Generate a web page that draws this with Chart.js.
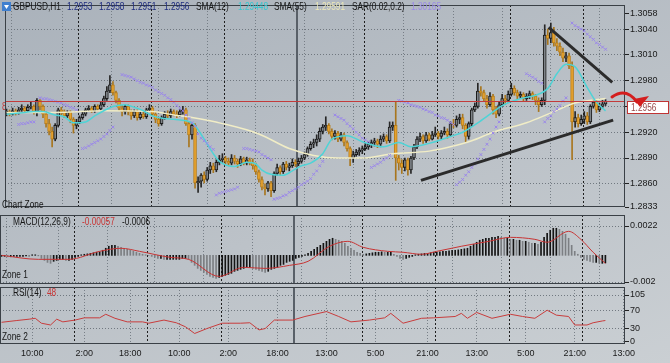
<!DOCTYPE html>
<html><head><meta charset="utf-8">
<script src="https://cdn.jsdelivr.net/npm/chart.js@4.4.1/dist/chart.umd.min.js"></script>
<style>
html,body{margin:0;padding:0;}
body{width:670px;height:363px;overflow:hidden;position:relative;background:linear-gradient(160deg,#aab2bb 0%,#bcc2c8 55%,#cacfd3 100%);}
canvas{position:absolute;left:0;}
#c1{top:0;} #c2{top:215px;} #c3{top:287px;}
</style></head><body>
<canvas id="c1" width="670" height="212"></canvas>
<canvas id="c2" width="670" height="69"></canvas>
<canvas id="c3" width="670" height="76"></canvas>
<script>
const FONT = "'Liberation Sans',Arial,sans-serif";
const symbolName = 'GBPUSD,H1';

const opens = [1.2943,1.2944,1.2941,1.2945,1.2943,1.2946,1.2948,1.2945,1.2949,1.2950,
1.2944,1.2957,1.2950,1.2941,1.2930,1.2921,1.2912,1.2928,1.2946,1.2944,
1.2939,1.2943,1.2935,1.2928,1.2932,1.2937,1.2941,1.2946,1.2948,1.2945,
1.2950,1.2947,1.2952,1.2959,1.2968,1.2975,1.2966,1.2957,1.2948,1.2944,
1.2950,1.2944,1.2939,1.2944,1.2937,1.2941,1.2938,1.2946,1.2948,1.2941,
1.2935,1.2930,1.2937,1.2941,1.2939,1.2944,1.2941,1.2940,1.2944,1.2946,
1.2930,1.2917,1.2928,1.2861,1.2863,1.2870,1.2865,1.2876,1.2881,1.2876,
1.2885,1.2888,1.2890,1.2886,1.2884,1.2890,1.2886,1.2883,1.2889,1.2884,
1.2888,1.2885,1.2881,1.2874,1.2865,1.2856,1.2854,1.2861,1.2852,1.2872,
1.2879,1.2874,1.2883,1.2879,1.2881,1.2885,1.2883,1.2886,1.2890,1.2894,
1.2901,1.2906,1.2908,1.2912,1.2921,1.2926,1.2928,1.2921,1.2915,1.2919,
1.2912,1.2917,1.2908,1.2901,1.2890,1.2894,1.2897,1.2899,1.2901,1.2903,
1.2906,1.2908,1.2910,1.2906,1.2912,1.2915,1.2910,1.2926,1.2928,1.2890,
1.2884,1.2879,1.2888,1.2876,1.2890,1.2903,1.2912,1.2915,1.2910,1.2917,
1.2912,1.2917,1.2919,1.2915,1.2919,1.2921,1.2917,1.2930,1.2928,1.2935,
1.2937,1.2928,1.2915,1.2930,1.2946,1.2950,1.2968,1.2966,1.2959,1.2952,
1.2962,1.2946,1.2941,1.2952,1.2959,1.2957,1.2964,1.2971,1.2966,1.2962,
1.2964,1.2959,1.2962,1.2965,1.2962,1.2957,1.2952,1.2957,1.3033,1.3029,
1.3036,1.3024,1.3020,1.3013,1.3006,1.3009,1.2997,1.2932,1.2937,1.2930,
1.2935,1.2939,1.2932,1.2950,1.2955,1.2946,1.2950,1.2953];

const highs = [1.2947,1.2946,1.2948,1.2947,1.2949,1.2952,1.2950,1.2952,1.2955,1.2952,
1.2959,1.2958,1.2952,1.2944,1.2935,1.2926,1.2930,1.2948,1.2949,1.2946,
1.2945,1.2945,1.2937,1.2935,1.2939,1.2944,1.2948,1.2951,1.2950,1.2952,
1.2952,1.2955,1.2962,1.2973,1.2986,1.2979,1.2968,1.2959,1.2951,1.2952,
1.2952,1.2946,1.2946,1.2946,1.2944,1.2944,1.2948,1.2952,1.2950,1.2944,
1.2937,1.2939,1.2944,1.2945,1.2947,1.2946,1.2945,1.2946,1.2950,1.2948,
1.2932,1.2930,1.2930,1.2868,1.2872,1.2874,1.2879,1.2885,1.2884,1.2888,
1.2893,1.2895,1.2892,1.2890,1.2894,1.2893,1.2889,1.2892,1.2891,1.2891,
1.2890,1.2889,1.2884,1.2876,1.2868,1.2860,1.2863,1.2863,1.2874,1.2883,
1.2881,1.2885,1.2886,1.2884,1.2889,1.2888,1.2890,1.2893,1.2897,1.2903,
1.2909,1.2912,1.2917,1.2925,1.2929,1.2938,1.2930,1.2924,1.2922,1.2921,
1.2920,1.2919,1.2910,1.2903,1.2898,1.2900,1.2902,1.2904,1.2907,1.2909,
1.2911,1.2913,1.2912,1.2916,1.2918,1.2917,1.2932,1.2932,1.2955,1.2893,
1.2888,1.2890,1.2890,1.2892,1.2906,1.2915,1.2919,1.2917,1.2920,1.2919,
1.2921,1.2926,1.2921,1.2922,1.2926,1.2924,1.2932,1.2935,1.2939,1.2941,
1.2941,1.2930,1.2932,1.2948,1.2954,1.2977,1.2973,1.2969,1.2963,1.2966,
1.2964,1.2950,1.2956,1.2964,1.2963,1.2968,1.2977,1.2974,1.2969,1.2967,
1.2966,1.2965,1.2968,1.2967,1.2964,1.2960,1.2960,1.3045,1.3040,1.3047,
1.3042,1.3029,1.3024,1.3018,1.3013,1.3012,1.3002,1.2944,1.2941,1.2940,
1.2944,1.2943,1.2952,1.2958,1.2957,1.2954,1.2957,1.2958];

const lows = [1.2939,1.2939,1.2940,1.2940,1.2941,1.2944,1.2943,1.2944,1.2947,1.2941,
1.2939,1.2946,1.2937,1.2926,1.2917,1.2903,1.2910,1.2926,1.2940,1.2937,
1.2937,1.2931,1.2919,1.2924,1.2930,1.2935,1.2939,1.2944,1.2943,1.2943,
1.2945,1.2945,1.2950,1.2957,1.2966,1.2963,1.2954,1.2945,1.2939,1.2941,
1.2940,1.2935,1.2937,1.2934,1.2935,1.2936,1.2936,1.2944,1.2939,1.2931,
1.2927,1.2928,1.2935,1.2936,1.2937,1.2939,1.2937,1.2938,1.2941,1.2928,
1.2903,1.2912,1.2855,1.2850,1.2856,1.2861,1.2863,1.2872,1.2873,1.2874,
1.2882,1.2885,1.2883,1.2881,1.2882,1.2883,1.2879,1.2881,1.2882,1.2882,
1.2882,1.2877,1.2871,1.2862,1.2853,1.2847,1.2851,1.2845,1.2850,1.2870,
1.2870,1.2872,1.2876,1.2875,1.2879,1.2880,1.2881,1.2884,1.2888,1.2892,
1.2899,1.2902,1.2904,1.2909,1.2918,1.2922,1.2918,1.2911,1.2912,1.2909,
1.2910,1.2904,1.2898,1.2881,1.2885,1.2892,1.2893,1.2895,1.2899,1.2900,
1.2902,1.2904,1.2902,1.2903,1.2909,1.2907,1.2908,1.2922,1.2864,1.2876,
1.2872,1.2875,1.2870,1.2872,1.2888,1.2901,1.2909,1.2907,1.2908,1.2910,
1.2911,1.2915,1.2912,1.2912,1.2917,1.2913,1.2915,1.2925,1.2926,1.2930,
1.2924,1.2909,1.2912,1.2927,1.2944,1.2948,1.2962,1.2956,1.2948,1.2950,
1.2941,1.2937,1.2939,1.2950,1.2952,1.2955,1.2962,1.2963,1.2958,1.2959,
1.2956,1.2957,1.2959,1.2958,1.2952,1.2944,1.2950,1.2952,1.3022,1.3024,
1.3020,1.3015,1.3009,1.3002,1.3002,1.2994,1.2888,1.2926,1.2926,1.2928,
1.2930,1.2929,1.2930,1.2948,1.2943,1.2944,1.2948,1.2951];

const closes = [1.2944,1.2941,1.2945,1.2943,1.2946,1.2948,1.2945,1.2949,1.2950,1.2944,
1.2957,1.2950,1.2941,1.2930,1.2921,1.2912,1.2928,1.2946,1.2944,1.2939,
1.2943,1.2935,1.2928,1.2932,1.2937,1.2941,1.2946,1.2948,1.2945,1.2950,
1.2947,1.2952,1.2959,1.2968,1.2975,1.2966,1.2957,1.2948,1.2944,1.2950,
1.2944,1.2939,1.2944,1.2937,1.2941,1.2938,1.2946,1.2948,1.2941,1.2935,
1.2930,1.2937,1.2941,1.2939,1.2944,1.2941,1.2940,1.2944,1.2946,1.2930,
1.2917,1.2928,1.2861,1.2863,1.2870,1.2865,1.2876,1.2881,1.2876,1.2885,
1.2888,1.2890,1.2886,1.2884,1.2890,1.2886,1.2883,1.2889,1.2884,1.2888,
1.2885,1.2881,1.2874,1.2865,1.2856,1.2854,1.2861,1.2852,1.2872,1.2879,
1.2874,1.2883,1.2879,1.2881,1.2885,1.2883,1.2886,1.2890,1.2894,1.2901,
1.2906,1.2908,1.2912,1.2921,1.2926,1.2928,1.2921,1.2915,1.2919,1.2912,
1.2917,1.2908,1.2901,1.2890,1.2894,1.2897,1.2899,1.2901,1.2903,1.2906,
1.2908,1.2910,1.2906,1.2912,1.2915,1.2910,1.2926,1.2928,1.2890,1.2884,
1.2879,1.2888,1.2876,1.2890,1.2903,1.2912,1.2915,1.2910,1.2917,1.2912,
1.2917,1.2919,1.2915,1.2919,1.2921,1.2917,1.2930,1.2928,1.2935,1.2937,
1.2928,1.2915,1.2930,1.2946,1.2950,1.2968,1.2966,1.2959,1.2952,1.2962,
1.2946,1.2941,1.2952,1.2959,1.2957,1.2964,1.2971,1.2966,1.2962,1.2964,
1.2959,1.2962,1.2965,1.2962,1.2957,1.2952,1.2957,1.3033,1.3029,1.3036,
1.3024,1.3020,1.3013,1.3006,1.3009,1.2997,1.2932,1.2937,1.2930,1.2935,
1.2939,1.2932,1.2950,1.2955,1.2946,1.2950,1.2953,1.2956];

const sma12Bars = [0,6,9,12,16,19,22,26,29,32,35,39,42,45,48,52,55,61,65,68,70,75,79,82,84,87,91,94,97,100,104,107,112,117,124,129,133,139,146,150,155,159,163,169,174,178,181,184,187,191,194,197];
const sma12Vals = [1.2941,1.2943,1.2944,1.2944,1.2940,1.2938,1.2931,1.2932,1.2939,1.2945,1.2950,1.2952,1.2949,1.2945,1.2939,1.2936,1.2935,1.2931,1.2912,1.2895,1.2886,1.2880,1.2885,1.2883,1.2876,1.2871,1.2870,1.2875,1.2881,1.2884,1.2895,1.2912,1.2916,1.2909,1.2903,1.2908,1.2903,1.2907,1.2915,1.2920,1.2931,1.2941,1.2951,1.2959,1.2963,1.2971,1.2988,1.2999,1.2996,1.2972,1.2955,1.29448];

const sma55Bars = [0,16,32,48,55,61,71,83,93,101,109,117,127,139,146,153,160,171,180,187,197];
const sma55Vals = [1.2943,1.2943,1.2945,1.2944,1.2940,1.2937,1.2930,1.2918,1.2901,1.2893,1.2890,1.2890,1.2895,1.2898,1.2903,1.2910,1.2920,1.2931,1.2944,1.2954,1.29591];

const sar = [null,null,null,null,1.2929,1.2930,1.2930,1.2931,1.2932,1.2932,
null,1.2960,1.2959,1.2959,1.2958,1.2957,1.2956,1.2955,1.2954,1.2952,
1.2951,1.2949,1.2948,1.2946,null,1.2901,1.2902,1.2904,1.2906,1.2908,
1.2910,1.2912,1.2915,1.2918,1.2922,1.2926,null,null,1.2987,1.2986,
1.2985,1.2984,1.2982,1.2980,1.2978,1.2977,1.2975,1.2974,1.2972,1.2969,
1.2967,1.2965,1.2963,1.2960,1.2958,1.2955,1.2951,1.2948,1.2945,1.2940,
1.2936,1.2931,1.2927,1.2918,1.2913,1.2910,1.2907,1.2903,1.2900,1.2847,
1.2849,1.2850,1.2851,1.2852,1.2853,1.2854,1.2856,null,1.2901,1.2901,
1.2900,1.2899,1.2898,1.2897,1.2894,1.2892,1.2890,1.2888,1.2842,1.2843,
1.2844,1.2846,1.2847,1.2850,1.2852,1.2854,1.2856,1.2859,1.2861,1.2863,
1.2866,1.2871,1.2875,1.2881,1.2886,null,null,null,1.2940,1.2938,
1.2936,1.2934,1.2930,1.2927,1.2924,1.2920,1.2917,1.2913,1.2911,1.2909,
1.2879,1.2881,1.2883,1.2885,1.2888,1.2890,1.2893,null,null,1.2957,
1.2956,1.2955,1.2954,1.2952,1.2951,1.2950,1.2949,1.2947,1.2946,1.2944,
1.2943,1.2940,1.2939,1.2937,1.2936,1.2934,1.2931,1.2929,1.2859,1.2862,
1.2865,1.2870,1.2874,1.2879,1.2883,1.2889,1.2894,1.2900,1.2906,1.2912,
1.2919,1.2926,1.2932,null,null,null,null,null,null,null,
null,1.2988,1.2986,1.2984,1.2982,1.2979,1.2977,1.2932,1.2936,1.2939,
1.2944,1.2947,1.2951,1.2956,1.2960,null,1.3047,1.3044,1.3042,1.3040,
1.3038,1.3034,1.3031,1.3028,1.3024,1.3022,1.3019,1.30165];

const macdHist = [-0.00008,-0.00008,-0.00011,-0.00011,-0.00008,-0.00008,-0.00008,-0.00008,-0.00004,-0.00008,0.00004,0.00004,-0.00004,
-0.00023,-0.00038,-0.00053,-0.00060,-0.00045,
-0.00038,-0.00030,-0.00030,-0.00038,-0.00038,-0.00030,
-0.00015,-0.00008,0.00004,0.00008,0.00011,0.00015,0.00019,0.00023,0.00026,
0.00038,0.00053,0.00068,0.00075,0.00075,0.00068,0.00060,0.00053,
0.00045,0.00038,0.00030,0.00023,0.00015,
0.00008,0.00004,0,-0.00008,-0.00015,
-0.00023,-0.00023,-0.00030,-0.00030,-0.00030,-0.00030,-0.00030,-0.00030,-0.00023,-0.00023,-0.00030,
-0.00053,-0.00075,-0.00098,-0.00113,-0.00128,-0.00143,-0.00158,-0.00165,-0.00173,-0.00165,
-0.00158,-0.00150,-0.00143,-0.00135,-0.00120,-0.00113,-0.00105,-0.00098,-0.00090,-0.00090,
-0.00098,-0.00105,-0.00113,-0.00120,-0.00128,-0.00120,
-0.00105,-0.00098,-0.00090,-0.00075,-0.00068,-0.00053,-0.00045,-0.00038,
-0.00023,-0.00015,-0.00008,0.00004,0.00015,
0.00030,0.00045,0.00060,0.00075,0.00090,0.00105,0.00120,0.00128,0.00120,0.00113,
0.00105,0.00090,0.00068,0.00053,0.00038,0.00023,0.00015,
0.00008,0.00011,0.00015,0.00019,0.00023,0.00023,0.00026,0.00023,0.00023,
0.00023,0.00008,-0.00008,-0.00023,-0.00030,
-0.00023,-0.00015,-0.00008,0.00004,0.00008,0.00011,0.00015,
0.00015,0.00019,0.00023,0.00023,0.00026,0.00030,0.00030,0.00034,0.00038,0.00038,0.00041,0.00045,0.00049,0.00053,
0.00068,0.00083,0.00098,0.00113,0.00120,0.00128,0.00128,0.00135,0.00135,0.00143,0.00135,0.00128,0.00128,
0.00120,0.00120,0.00113,0.00113,0.00105,0.00105,0.00098,0.00090,0.00090,0.00083,
0.00098,0.00135,0.00165,0.00188,0.00203,0.00203,0.00195,
0.00180,0.00158,0.00128,0.00075,
0.00030,0.00008,-0.00015,
-0.00030,-0.00038,-0.00045,-0.00053,-0.00053,-0.00060,-0.00060,-0.00057];

const macdSigBars = [0,12,22,32,39,45,55,61,71,79,86,94,100,107,113,118,126,131,137,142,150,159,166,174,178,185,189,193,197];
const macdSigVals = [0,-0.0003,-0.0003,0.0003,0.00053,0.0003,-0.00015,-0.0003,-0.00158,-0.0009,-0.00098,-0.00075,-0.00045,0.00068,0.00105,0.0006,0.0003,0.00023,0.00008,0.0003,0.00068,0.00105,0.00135,0.0012,0.00098,0.0018,0.0012,0.00023,-0.0006];

const rsiBars = [0,5,9,11,13,16,18,20,24,27,32,34,37,41,46,48,53,57,60,63,67,72,78,81,84,86,89,95,99,106,110,114,120,125,127,131,137,141,148,150,152,155,160,166,170,174,178,181,185,187,191,193,196,197];
const rsiVals = [44,48,51,53,42,38,51,45,49,54,54,62,53,45,45,42,49,43,34,19,30,42,42,43,27,30,49,49,57,68,57,45,49,54,64,42,53,54,57,64,53,66,53,62,57,53,71,60,57,38,38,43,47,48];

const priceTicks = [1.3058,1.3040,1.3010,1.2980,1.2950,1.2920,1.2890,1.2860,1.2833];
const macdTicks = [0.0022,-0.002];
const rsiTicks = [105,70,30,0];
const timeLabels = ['10:00','2:00','18:00','10:00','2:00','18:00','13:00','5:00','21:00','13:00','5:00','21:00','13:00'];
const timeLabelBars = [10,27,42,58,74,90,106,122,139,155,171,187,203];
const daySeparatorBars = [23.5,47.5,71.5,117.5,141.5,165.5,189.5];
const weekSeparatorBars = [95.5];
const trendUpperBars = [178.3,199.2], trendUpperVals = [1.3042,1.2978];
const trendLowerBars = [136.3,199.5], trendLowerVals = [1.2864,1.2934];

Chart.defaults.font.family = FONT;
const X_MIN = -0.5, X_MAX = 203.4, AXIS_W = 45, TXT_SX = 0.83;
const N = closes.length;
const pts = (bars, vals) => bars.map((b,k)=>({x:b, y:vals[k]}));

function xScale(show){
  return {
    type:'linear', min:X_MIN, max:X_MAX, offset:false,
    afterBuildTicks: s => { s.ticks = timeLabelBars.map(v=>({value:v})); },
    ticks:{display:show, autoSkip:false, maxRotation:0, padding:4, color:'#1a1a1a', font:{size:9}, callback:(v,i)=>timeLabels[i]},
    grid:{color:'rgba(112,120,128,0.9)', lineWidth:1, drawTicks:false},
    border:{display:false, dash:[1,2]},
    afterFit: s => { s.height = show ? 19 : 0; s.paddingLeft = 0; s.paddingRight = 0; }
  };
}
function yScale(min, max, ticks, fmt, edgeVals){
  return {
    position:'right', min, max,
    afterBuildTicks: s => { s.ticks = ticks.map(v=>({value:v})); },
    afterFit: s => { s.width = AXIS_W; s.paddingTop = 0; s.paddingBottom = 0; },
    ticks:{color:'#1a1a1a', font:{size:9}, padding:1, callback:fmt},
    grid:{color: c => (c.tick && edgeVals.includes(c.tick.value)) ? 'rgba(0,0,0,0)' : 'rgba(104,112,120,0.9)', lineWidth:1, drawTicks:true, tickLength:4, tickColor:'#222'},
    border:{display:false, dash:[1,2]}
  };
}
const panelPlugin = {
  id:'panel',
  beforeDatasetsDraw(chart){
    const {ctx, chartArea:a, scales:{x}} = chart;
    ctx.save();
    ctx.beginPath(); ctx.rect(a.left,a.top,a.right-a.left,a.bottom-a.top); ctx.clip();
    ctx.strokeStyle='#1e1e1e'; ctx.lineWidth=1; ctx.setLineDash([2,2]);
    daySeparatorBars.forEach(b=>{ const px=Math.round(x.getPixelForValue(b))+0.5; ctx.beginPath(); ctx.moveTo(px,a.top); ctx.lineTo(px,a.bottom); ctx.stroke(); });
    ctx.setLineDash([]); ctx.strokeStyle='#596068'; ctx.lineWidth=2;
    weekSeparatorBars.forEach(b=>{ const px=Math.round(x.getPixelForValue(b)); ctx.beginPath(); ctx.moveTo(px,a.top); ctx.lineTo(px,a.bottom); ctx.stroke(); });
    ctx.restore();
  },
  afterDraw(chart){
    const {ctx, chartArea:a} = chart;
    ctx.save(); ctx.strokeStyle='#3a4046'; ctx.lineWidth=1;
    ctx.strokeRect(a.left+0.5, a.top+0.5, a.right-a.left-1, a.bottom-a.top-1);
    ctx.restore();
  }
};
function drawTexts(ctx, y, items){
  ctx.save(); ctx.font = `10px ${FONT}`; ctx.textBaseline='middle'; ctx.textAlign='left';
  ctx.scale(TXT_SX, 1);
  items.forEach(([x,col,t])=>{ ctx.fillStyle=col; ctx.fillText(t,x/TXT_SX,y); });
  ctx.restore();
}
const isUp = i => closes[i] >= opens[i];
const bodyFill = opens.map((o,i)=> isUp(i) ? '#7f8489' : '#e6a22e');
const bodyBorder = opens.map((o,i)=> isUp(i) ? '#1c1c1c' : '#b97f1c');
const wickCol = opens.map((o,i)=> isUp(i) ? '#262626' : '#a8761e');

const mainOverlay = {
  id:'mainOverlay',
  afterDatasetsDraw(chart){
    const {ctx, chartArea:a, scales:{y}} = chart;
    const py = Math.round(y.getPixelForValue(closes[N-1]))+0.5;
    ctx.save(); ctx.strokeStyle='#c23b3b'; ctx.lineWidth=1;
    ctx.beginPath(); ctx.moveTo(a.left,py); ctx.lineTo(a.right,py); ctx.stroke();
    ctx.restore();
    drawTexts(ctx, py+6, [[2,'#c23b3b','8']]);
  },
  afterDraw(chart){
    const {ctx, chartArea:a, scales:{y}} = chart;
    ctx.save();
    ctx.fillStyle='#3f7fcf'; ctx.fillRect(2,2,9,9);
    ctx.fillStyle='#ffffff'; ctx.beginPath(); ctx.moveTo(4,5); ctx.lineTo(9,5); ctx.lineTo(6.5,9); ctx.closePath(); ctx.fill();
    ctx.restore();
    drawTexts(ctx, 7, [
      [13,'#161616',symbolName],
      [67,'#1d2b7e',opens[N-1].toFixed(4)],
      [99,'#1d2b7e',highs[N-1].toFixed(4)],
      [131,'#1d2b7e',lows[N-1].toFixed(4)],
      [164,'#1d2b7e',closes[N-1].toFixed(4)],
      [196,'#161616','SMA(12)'],
      [238,'#34c6cf',sma12Vals[sma12Vals.length-1].toFixed(5)],
      [274,'#161616','SMA(55)'],
      [315,'#ece8b8',sma55Vals[sma55Vals.length-1].toFixed(5)],
      [352,'#161616','SAR(0.02,0.2)'],
      [411,'#9a8ae6',sar[N-1].toFixed(5)]
    ]);
    drawTexts(ctx, 205, [[2,'#161616','Chart Zone']]);
    const py = Math.round(y.getPixelForValue(closes[N-1]));
    const R = a.right;
    ctx.save();
    ctx.fillStyle='#ffffff'; ctx.fillRect(R+2,py,42,13);
    ctx.strokeStyle='#c03434'; ctx.lineWidth=1; ctx.strokeRect(R+2.5,py+0.5,41,12);
    ctx.restore();
    drawTexts(ctx, py+7, [[R+6,'#9a4a4a',closes[N-1].toFixed(4)]]);
    ctx.save();
    ctx.strokeStyle='#d41e1e'; ctx.fillStyle='#d41e1e'; ctx.lineWidth=3; ctx.lineCap='round';
    ctx.beginPath(); ctx.moveTo(R-13,py-4); ctx.quadraticCurveTo(R+1,py-14,R+12,py+1); ctx.stroke();
    ctx.beginPath(); ctx.moveTo(R+24,py-5); ctx.lineTo(R+9,py-2); ctx.lineTo(R+15,py+6); ctx.closePath(); ctx.fill();
    ctx.restore();
  }
};

new Chart(document.getElementById('c1'), {
  data:{datasets:[
    {type:'line', data:pts(trendUpperBars,trendUpperVals), borderColor:'#2b2b2b', borderWidth:3, pointRadius:0, order:0},
    {type:'line', data:pts(trendLowerBars,trendLowerVals), borderColor:'#2b2b2b', borderWidth:3, pointRadius:0, order:0},
    {type:'line', data:sar.map((v,i)=>({x:i,y:v})), showLine:false, pointStyle:'crossRot', pointRadius:2, pointBorderColor:'#9a86ea', pointBorderWidth:1, pointBackgroundColor:'#9a86ea', order:1},
    {type:'line', data:pts(sma12Bars,sma12Vals), borderColor:'#4fd3d6', borderWidth:1.5, pointRadius:0, cubicInterpolationMode:'monotone', order:2},
    {type:'line', data:pts(sma55Bars,sma55Vals), borderColor:'#f1edc6', borderWidth:1.5, pointRadius:0, cubicInterpolationMode:'monotone', order:3},
    {type:'bar', data:opens.map((o,i)=>({x:i,y:[Math.min(o,closes[i]),Math.max(o,closes[i])]})), backgroundColor:bodyFill, borderColor:bodyBorder, borderWidth:1, borderSkipped:false, barThickness:3, minBarLength:1, grouped:false, order:4},
    {type:'bar', data:lows.map((l,i)=>({x:i,y:[l,highs[i]]})), backgroundColor:wickCol, barThickness:1, grouped:false, order:5}
  ]},
  options:{
    responsive:false, animation:false, devicePixelRatio:1, events:[],
    layout:{padding:{top:1,bottom:1,left:0,right:0}},
    plugins:{legend:{display:false}, tooltip:{enabled:false}},
    scales:{
      x:xScale(false),
      y:yScale(1.2833, 1.3068, priceTicks, v=>v.toFixed(4), [1.3058,1.2833])
    }
  },
  plugins:[panelPlugin, mainOverlay]
});

const histCol = macdHist.map((v,i)=> (i===0 || v>=macdHist[i-1]) ? '#141414' : '#7c7f83');
new Chart(document.getElementById('c2'), {
  data:{datasets:[
    {type:'line', data:pts(macdSigBars,macdSigVals), borderColor:'#c83434', borderWidth:1, pointRadius:0, cubicInterpolationMode:'monotone', order:0},
    {type:'bar', data:macdHist.map((v,i)=>({x:i,y:v})), backgroundColor:histCol, barThickness:1, grouped:false, order:1}
  ]},
  options:{
    responsive:false, animation:false, devicePixelRatio:1, events:[],
    layout:{padding:0},
    plugins:{legend:{display:false}, tooltip:{enabled:false}},
    scales:{
      x:xScale(false),
      y:yScale(-0.00215, 0.003025, macdTicks, v=>String(v), [])
    }
  },
  plugins:[panelPlugin, {id:'macdText', afterDraw(chart){
    drawTexts(chart.ctx, 7, [[13,'#161616','MACD(12,26,9)'],[82,'#c83434',macdHist[N-1].toFixed(5)],[122,'#161616',macdSigVals[macdSigVals.length-1].toFixed(4)]]);
    drawTexts(chart.ctx, 60, [[2,'#161616','Zone 1']]);
  }}]
});

new Chart(document.getElementById('c3'), {
  data:{datasets:[
    {type:'line', data:pts(rsiBars,rsiVals), borderColor:'#c83c3c', borderWidth:1, pointRadius:0, tension:0}
  ]},
  options:{
    responsive:false, animation:false, devicePixelRatio:1, events:[],
    layout:{padding:0},
    plugins:{legend:{display:false}, tooltip:{enabled:false}},
    scales:{
      x:xScale(true),
      y:yScale(-4.47, 122.9, rsiTicks, v=>String(v), [0])
    }
  },
  plugins:[panelPlugin, {id:'rsiText', afterDraw(chart){
    drawTexts(chart.ctx, 6, [[13,'#161616','RSI(14)'],[47,'#c83434',String(rsiVals[rsiVals.length-1])]]);
    drawTexts(chart.ctx, 50, [[2,'#161616','Zone 2']]);
  }}]
});
</script>
</body></html>
